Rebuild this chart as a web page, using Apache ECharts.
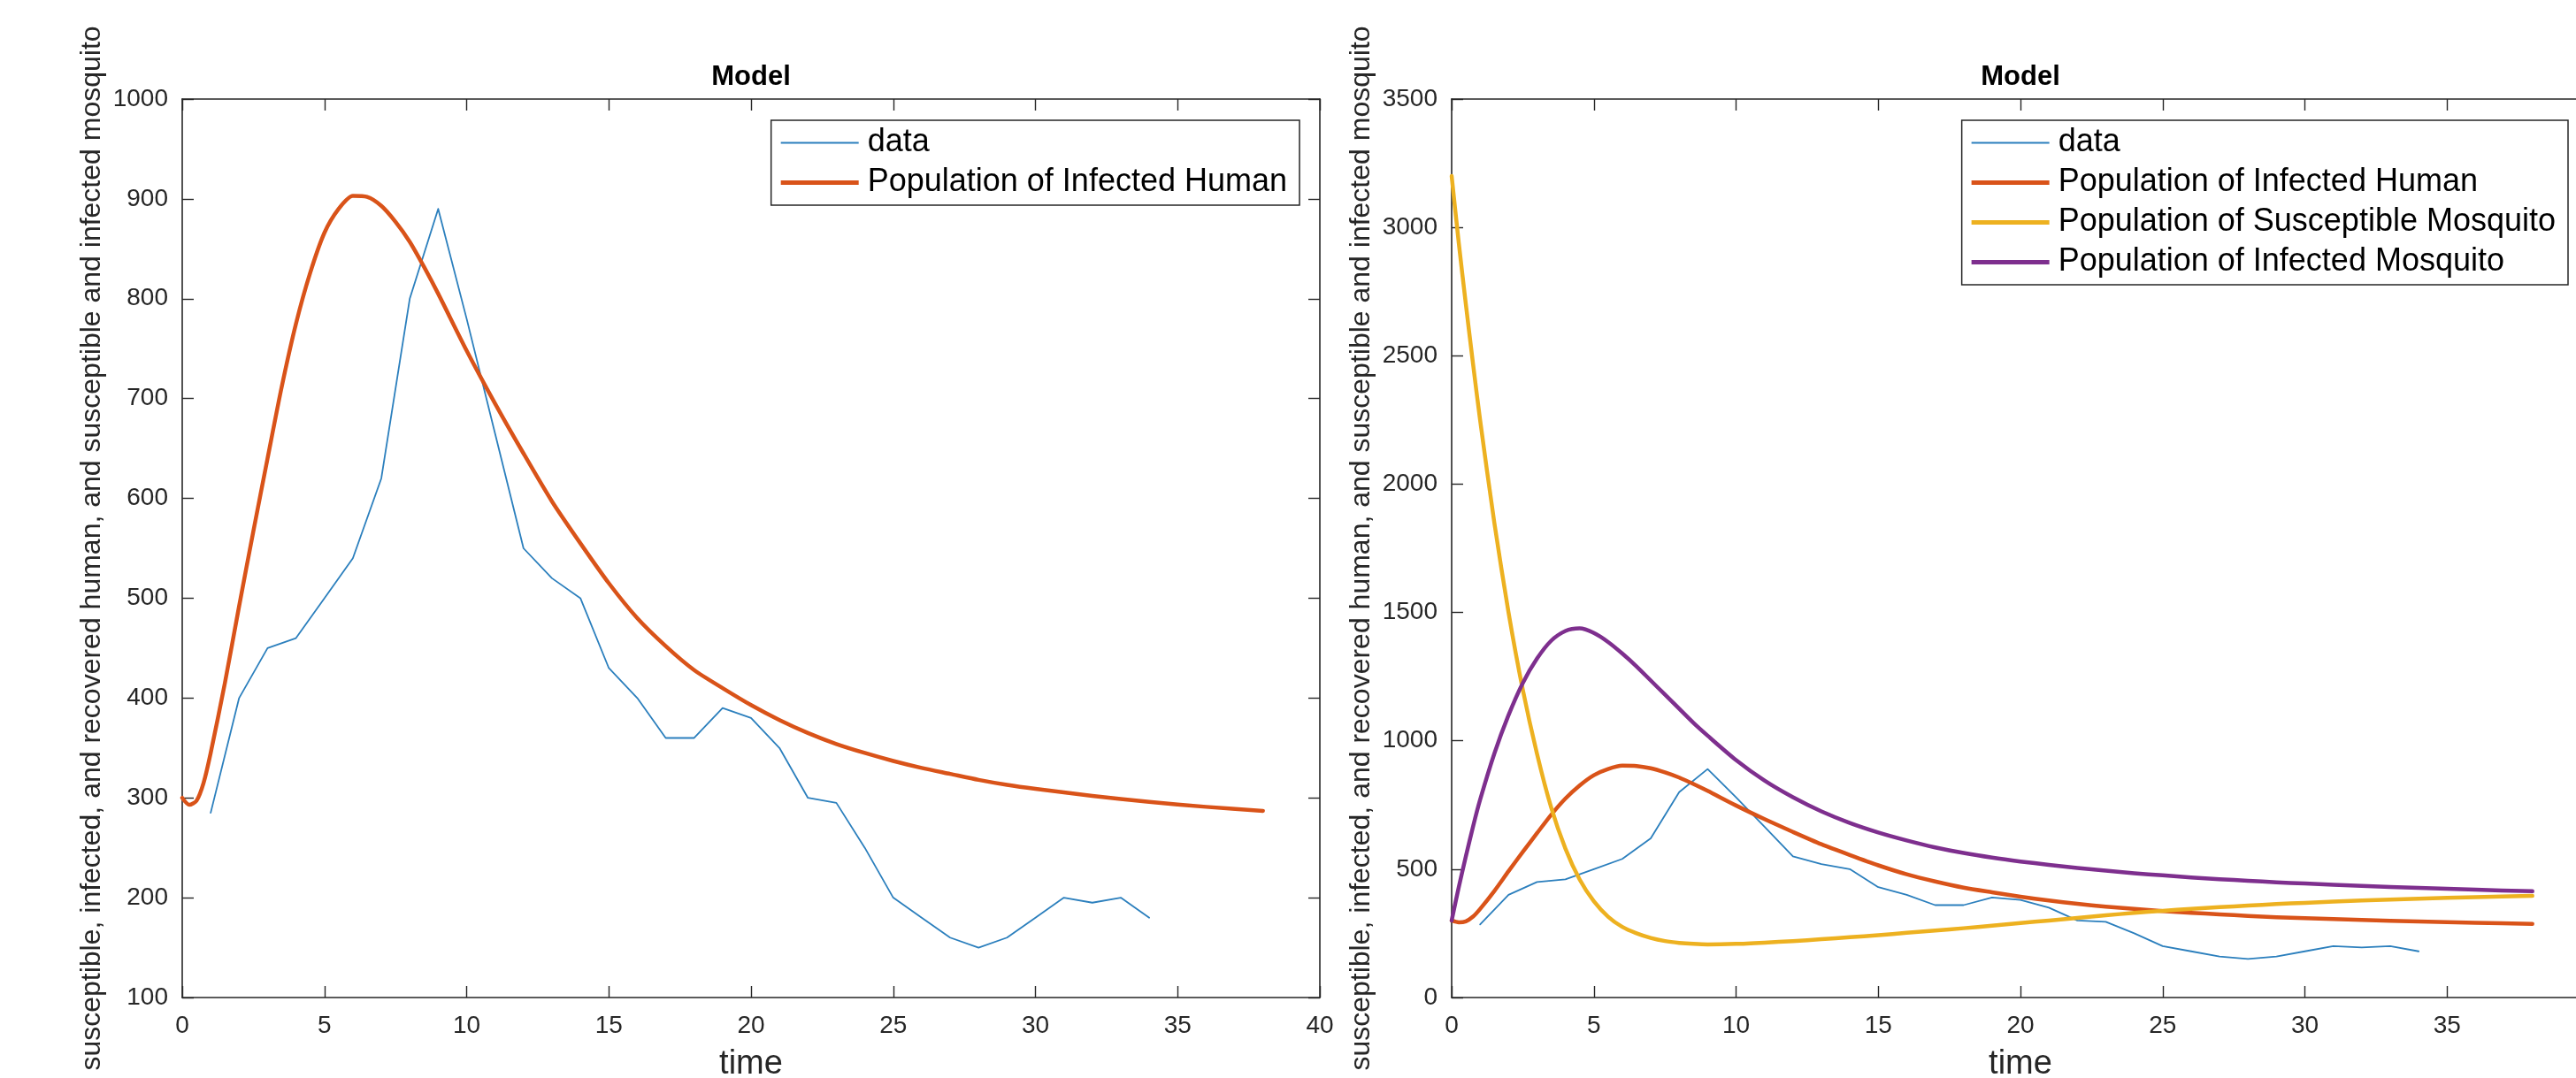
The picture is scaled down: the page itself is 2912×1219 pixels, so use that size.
<!DOCTYPE html>
<html>
<head>
<meta charset="utf-8">
<title>Model</title>
<script src="https://cdn.jsdelivr.net/npm/echarts@6/dist/echarts.min.js"></script>
<style>
  html, body { margin: 0; padding: 0; background: #fff; }
  #chart { width: 2912px; height: 1219px; }
</style>
</head>
<body>
<div id="chart"></div>
<script>
// observed cases (time 1..34)
const dataTime = [1, 2, 3, 4, 5, 6, 7, 8, 9, 10, 11, 12, 13, 14, 15, 16, 17, 18, 19, 20, 21, 22, 23, 24, 25, 26, 27, 28, 29, 30, 31, 32, 33, 34];
const dataCases = [285, 400, 450, 460, 500, 540, 620, 800, 890, 780, 665, 550, 520, 500, 430, 400, 360, 360, 390, 380, 350, 300, 295, 250, 200, 180, 160, 150, 160, 180, 200, 195, 200, 180];

// model curves at these times
const modelTime = [0, 0.25, 0.5, 0.75, 1, 1.5, 2, 2.5, 3, 3.5, 4, 4.5, 5, 5.5, 6, 6.5, 7, 7.5, 8, 8.5, 9, 10, 11, 12, 13, 14, 15, 16, 17, 18, 19, 20, 21, 22, 23, 24, 25, 26, 27, 28, 29, 30, 32, 34, 36, 38];
const infectedHuman = [300, 293, 297, 315, 345, 415, 492, 567, 640, 712, 775, 826, 866, 890, 903, 902, 893, 877, 857, 832, 805, 748, 695, 645, 597, 555, 515, 480, 452, 428, 410, 393, 378, 365, 354, 345, 337, 330, 324, 318, 313, 309, 302, 296, 291, 287];
const susceptibleMosquito = [3200, 2940, 2700, 2470, 2250, 1850, 1500, 1200, 950, 740, 580, 460, 375, 315, 275, 250, 232, 220, 213, 209, 207, 209, 214, 220, 227, 235, 243, 252, 261, 270, 280, 290, 300, 310, 320, 330, 338, 345, 352, 358, 364, 369, 378, 385, 391, 396];
const infectedMosquito = [300, 430, 550, 665, 770, 950, 1100, 1225, 1320, 1390, 1428, 1438, 1420, 1385, 1340, 1290, 1235, 1180, 1125, 1070, 1020, 925, 845, 780, 725, 680, 643, 612, 585, 563, 545, 530, 517, 505, 494, 484, 476, 468, 461, 455, 449, 444, 435, 427, 420, 414];

const seriesNames = ['data', 'Population of Infected Human', 'Population of Susceptible Mosquito', 'Population of Infected Mosquito'];
const seriesColors = ['#2b7fbd', '#d95319', '#edb120', '#7e2f8e'];

const xTicks = { min: 0, max: 40, interval: 5 };
const yTicksLeft = { min: 100, max: 1000, interval: 100 };
const yTicksRight = { min: 0, max: 3500, interval: 500 };

const yLabel = 'susceptible, infected, and recovered human, and susceptible and infected mosquito';

const FONT = '"Liberation Sans", Arial, Helvetica, sans-serif';
const AXIS = '#262626';

// legend swatches: plain horizontal bars, thin for data, thick for the model
const thinIcon = 'path://M0,0 H88 V2 H0 Z';
const thickIcon = 'path://M0,0 H88 V5 H0 Z';

const pairs = (xs, ys) => xs.map((x, i) => [x, ys[i]]);

const xAxisFor = (grid, top) => ({
  type: 'value',
  gridIndex: grid,
  position: top ? 'top' : 'bottom',
  ...xTicks,
  name: top ? '' : 'time',
  nameLocation: 'middle',
  nameGap: 57,
  nameTextStyle: { fontFamily: FONT, fontSize: 38, color: AXIS },
  axisLine: { show: true, onZero: false, lineStyle: { color: AXIS, width: 1.6 } },
  axisTick: { show: true, inside: true, length: 13, lineStyle: { color: AXIS, width: 1.4 } },
  axisLabel: { show: !top, margin: 18, fontFamily: FONT, fontSize: 28, color: AXIS,
    showMaxLabel: true, showMinLabel: true, hideOverlap: false, formatter: (v) => String(v) },
  splitLine: { show: false }
});

const yAxisFor = (grid, right, ticks) => ({
  type: 'value',
  gridIndex: grid,
  position: right ? 'right' : 'left',
  ...ticks,
  name: right ? '' : yLabel,
  nameLocation: 'middle',
  nameGap: 86,
  nameTextStyle: { fontFamily: FONT, fontSize: 32, color: AXIS },
  axisLine: { show: true, onZero: false, lineStyle: { color: AXIS, width: 1.6 } },
  axisTick: { show: true, inside: true, length: 13, lineStyle: { color: AXIS, width: 1.4 } },
  axisLabel: { show: !right, margin: 16, fontFamily: FONT, fontSize: 28, color: AXIS, formatter: (v) => String(v) },
  splitLine: { show: false }
});

const lineSeries = (idx, xAxisIndex, yAxisIndex, points, width, smooth) => ({
  name: seriesNames[idx],
  type: 'line',
  xAxisIndex,
  yAxisIndex,
  data: points,
  symbol: 'none',
  smooth,
  z: 2 + idx,
  lineStyle: { color: seriesColors[idx], width, join: 'round', cap: 'round' },
  itemStyle: { color: seriesColors[idx] },
  emphasis: { disabled: true },
  animation: false
});

const legendFor = (right, names) => ({
  orient: 'vertical',
  right,
  top: 136,
  data: names.map((n, i) => ({ name: n, icon: i === 0 ? thinIcon : thickIcon })),
  itemWidth: 88,
  itemHeight: 14,
  itemGap: 0,
  padding: [3, 14, 3, 11],
  backgroundColor: '#fff',
  borderColor: AXIS,
  borderWidth: 1.5,
  borderRadius: 0,
  selectedMode: false,
  textStyle: { fontFamily: FONT, fontSize: 36, color: '#000', lineHeight: 45, padding: [0, 0, 0, 5] }
});

const chart = echarts.init(document.getElementById('chart'), null, { renderer: 'canvas' });

chart.setOption({
  backgroundColor: '#ffffff',
  animation: false,
  title: [
    { text: 'Model', left: 849, top: 72, textAlign: 'center', padding: 0,
      textStyle: { fontFamily: FONT, fontSize: 31, fontWeight: 'bold', color: '#000' } },
    { text: 'Model', left: 2284, top: 72, textAlign: 'center', padding: 0,
      textStyle: { fontFamily: FONT, fontSize: 31, fontWeight: 'bold', color: '#000' } }
  ],
  grid: [
    { left: 206, top: 112, width: 1286, height: 1016, containLabel: false, outerBoundsMode: 'none' },
    { left: 1641, top: 112, width: 1286, height: 1016, containLabel: false, outerBoundsMode: 'none' }
  ],
  xAxis: [xAxisFor(0, false), xAxisFor(0, true), xAxisFor(1, false), xAxisFor(1, true)],
  yAxis: [yAxisFor(0, false, yTicksLeft), yAxisFor(0, true, yTicksLeft), yAxisFor(1, false, yTicksRight), yAxisFor(1, true, yTicksRight)],
  legend: [
    legendFor(2912 - 1469, seriesNames.slice(0, 2)),
    legendFor(9, seriesNames)
  ],
  series: [
    lineSeries(0, 0, 0, pairs(dataTime, dataCases), 1.8, false),
    lineSeries(1, 0, 0, pairs(modelTime, infectedHuman), 4.5, 0.25),
    lineSeries(0, 2, 2, pairs(dataTime, dataCases), 1.8, false),
    lineSeries(1, 2, 2, pairs(modelTime, infectedHuman), 4.5, 0.25),
    lineSeries(2, 2, 2, pairs(modelTime, susceptibleMosquito), 4.5, 0.25),
    lineSeries(3, 2, 2, pairs(modelTime, infectedMosquito), 4.5, 0.25)
  ]
});
</script>
</body>
</html>
